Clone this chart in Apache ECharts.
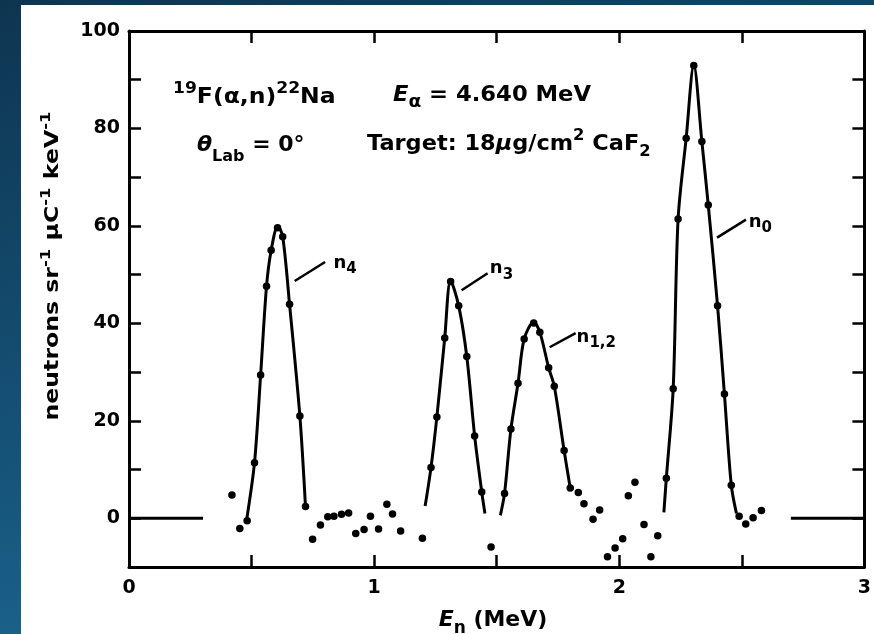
<!DOCTYPE html>
<html>
<head>
<meta charset="utf-8">
<script src="https://cdn.jsdelivr.net/npm/echarts@6/dist/echarts.min.js"></script>
<style>
  html, body { margin: 0; padding: 0; width: 874px; height: 634px; overflow: hidden;
    background: linear-gradient(165deg, #0e3550 0%, #16547a 55%, #21739b 100%); }
  #chart { position: absolute; left: 21px; top: 5px; width: 853px; height: 629px; background: #fff; }
</style>
</head>
<body>
<div id="chart"></div>
<script>
// Measured neutron yield per channel (E_n in MeV, yield in neutrons sr^-1 uC^-1 keV^-1)
const pointE = [
  0.420, 0.452, 0.482, 0.512, 0.537, 0.561, 0.580, 0.606, 0.627, 0.655, 0.697, 0.720,
  0.749, 0.781, 0.811, 0.836, 0.867, 0.896, 0.925, 0.959, 0.985, 1.018, 1.052, 1.075, 1.108, 1.197,
  1.232, 1.256, 1.288, 1.312, 1.345, 1.378, 1.410, 1.439, 1.477,
  1.532, 1.558, 1.587, 1.612, 1.651, 1.676, 1.712, 1.735, 1.775, 1.800,
  1.833, 1.856, 1.893, 1.920, 1.952, 1.983, 2.014, 2.037, 2.064, 2.101, 2.129, 2.157,
  2.192, 2.220, 2.240, 2.273, 2.304, 2.337, 2.363, 2.401, 2.429, 2.457,
  2.489, 2.516, 2.546, 2.580
];
const pointY = [
  4.8, -2.1, -0.5, 11.4, 29.4, 47.6, 55.0, 59.6, 57.8, 43.9, 21.0, 2.4,
  -4.3, -1.4, 0.3, 0.4, 0.8, 1.1, -3.1, -2.3, 0.4, -2.2, 2.9, 0.9, -2.6, -4.1,
  10.4, 20.8, 37.0, 48.6, 43.6, 33.2, 16.9, 5.4, -5.9,
  5.1, 18.3, 27.7, 36.8, 40.1, 38.2, 30.9, 27.1, 13.9, 6.2,
  5.3, 3.0, -0.2, 1.7, -7.9, -6.1, -4.2, 4.6, 7.4, -1.3, -7.9, -3.6,
  8.2, 26.6, 61.4, 78.0, 92.9, 77.3, 64.3, 43.6, 25.5, 6.8,
  0.4, -1.2, 0.1, 1.6
];

// Hand-fitted peak shapes
const curveN4E = [0.480, 0.512, 0.537, 0.561, 0.580, 0.607, 0.627, 0.655, 0.697, 0.720];
const curveN4Y = [-0.3, 11.4, 29.4, 47.6, 55.0, 60.0, 57.8, 43.9, 21.0, 2.4];
const curveN3E = [1.208, 1.232, 1.256, 1.288, 1.312, 1.345, 1.378, 1.410, 1.439, 1.452];
const curveN3Y = [2.5, 10.4, 20.8, 37.0, 48.8, 43.6, 33.2, 16.9, 5.4, 1.0];
const curveN12E = [1.515, 1.532, 1.558, 1.587, 1.612, 1.651, 1.676, 1.712, 1.735, 1.775, 1.800];
const curveN12Y = [0.6, 5.1, 18.3, 27.7, 36.8, 40.3, 38.2, 30.9, 27.1, 13.9, 6.2];
const curveN0E = [2.182, 2.192, 2.220, 2.240, 2.273, 2.304, 2.337, 2.363, 2.401, 2.429, 2.457, 2.478];
const curveN0Y = [1.2, 8.2, 26.6, 61.4, 78.0, 93.0, 77.3, 64.3, 43.6, 25.5, 6.8, 1.0];

// Zero baselines outside the measured range
const baseLeftE = [0, 0.302];
const baseLeftY = [0, 0];
const baseRightE = [2.70, 3.0];
const baseRightY = [0, 0];

// Peak labels: leader start, leader end, text anchor (left baseline)
const peakNames = ['4', '3', '1,2', '0'];
const leaderFromE = [0.676, 1.357, 1.716, 2.399];
const leaderFromY = [48.7, 46.8, 35.1, 57.6];
const leaderToE = [0.800, 1.463, 1.822, 2.517];
const leaderToY = [52.6, 50.3, 38.0, 61.3];
const labelE = [0.834, 1.472, 1.826, 2.528];
const labelY = [51.0, 49.9, 35.9, 59.5];

// Axis ranges and ticks
const xMin = 0, xMax = 3, xStep = 0.5;
const yMin = -10, yMax = 100, yStep = 10;

const zip = (xs, ys) => xs.map((x, i) => [x, ys[i]]);

const FONT = '"DejaVu Sans", "Liberation Sans", sans-serif';
const mctx = document.createElement('canvas').getContext('2d');
const fontOf = (size, italic) => (italic ? 'italic ' : '') + 'bold ' + size + 'px ' + FONT;

// Lays out a run of text pieces with their own size and baseline shift.
// parts: [text, size, baselineShift, italic]; (x, y) is the main baseline start.
function textRun(parts, x, y, opt) {
  opt = opt || {};
  let cx = 0;
  const kids = [];
  for (const [t, size, shift, italic] of parts) {
    const font = fontOf(size, italic);
    mctx.font = font;
    const w = mctx.measureText(t).width;
    kids.push({
      type: 'text', x: cx, y: shift - 0.35 * size,
      style: { text: t, font: font, fill: '#000', align: 'left', verticalAlign: 'middle',
               textAlign: 'left', textVerticalAlign: 'middle' }
    });
    cx += w;
  }
  if (opt.center) kids.forEach(k => { k.x -= cx / 2; });
  return { type: 'group', x: x, y: y, rotation: opt.rotation || 0, scaleX: opt.sx || 1, children: kids, z: 10 };
}

const lineStyleBlack = (w) => ({ color: '#000', width: w });

const curveSeries = (e, y) => ({
  type: 'line', data: zip(e, y), smooth: 0.3, showSymbol: false, symbol: 'none',
  lineStyle: lineStyleBlack(3), z: 3, silent: true
});
const straightSeries = (e, y, w) => ({
  type: 'line', data: zip(e, y), smooth: false, showSymbol: false, symbol: 'none',
  lineStyle: lineStyleBlack(w), z: 3, silent: true
});

const series = [
  straightSeries(baseLeftE, baseLeftY, 3),
  straightSeries(baseRightE, baseRightY, 3),
  curveSeries(curveN4E, curveN4Y),
  curveSeries(curveN3E, curveN3Y),
  curveSeries(curveN12E, curveN12Y),
  curveSeries(curveN0E, curveN0Y)
];
for (let i = 0; i < peakNames.length; i++) {
  series.push(straightSeries([leaderFromE[i], leaderToE[i]], [leaderFromY[i], leaderToY[i]], 2.5));
}
series.push({
  type: 'scatter', data: zip(pointE, pointY), symbol: 'circle', symbolSize: 7.5,
  itemStyle: { color: '#000', opacity: 1 }, z: 5, silent: true
});

const axisCommon = {
  axisLine: { show: true, onZero: false, lineStyle: { color: '#000', width: 3 } },
  axisTick: { show: true, inside: true, length: 12, lineStyle: { color: '#000', width: 2.5 } },
  splitLine: { show: false }
};

const xBase = { type: 'value', min: xMin, max: xMax, interval: xStep };
const yBase = { type: 'value', min: yMin, max: yMax, interval: yStep };

const option = {
  animation: false,
  grid: { left: 108, right: 9, top: 26, bottom: 67, containLabel: false },
  xAxis: [
    Object.assign({}, xBase, axisCommon, {
      position: 'bottom',
      axisLabel: { show: true, margin: 12, color: '#000', fontFamily: FONT, fontWeight: 'bold', fontSize: 19,
        formatter: v => (Math.abs(v - Math.round(v)) < 1e-9 ? String(Math.round(v)) : '') }
    }),
    Object.assign({}, xBase, axisCommon, { position: 'top', axisLabel: { show: false } })
  ],
  yAxis: [
    Object.assign({}, yBase, axisCommon, {
      position: 'left',
      axisLabel: { show: true, margin: 9, color: '#000', fontFamily: FONT, fontWeight: 'bold', fontSize: 19,
        formatter: v => (v >= 0 && v % 20 === 0 ? String(v) : '') }
    }),
    Object.assign({}, yBase, axisCommon, { position: 'right', axisLabel: { show: false } })
  ],
  series: series
};

const chart = echarts.init(document.getElementById('chart'), null, { renderer: 'canvas' });
chart.setOption(option);

// Text annotations and peak labels
const graphics = [
  textRun([['19', 16, -11], ['F(α,n)', 22, 0], ['22', 16, -11], ['Na', 22, 0]], 152, 100, { sx: 1.07 }),
  textRun([['θ', 22, 0, true], ['Lab', 16, 9], [' = 0°', 22, 0]], 176, 148),
  textRun([['E', 22, 0, true], ['α', 18, 6], [' = 4.640 MeV', 22, 0]], 372, 98, { sx: 1.03 }),
  textRun([['Target: 18', 22, 0], ['μ', 22, 0, true], ['g/cm', 22, 0], ['2', 16, -10], [' CaF', 22, 0], ['2', 16, 6]], 346, 146.5, { sx: 1.02 }),
  textRun([['E', 22, 0, true], ['n', 17, 7], [' (MeV)', 22, 0]], 472, 623, { center: true }),
  textRun([['neutrons sr', 20, 0], ['-1', 14, -9], [' μC', 20, 0], ['-1', 14, -9], [' keV', 20, 0], ['-1', 14, -9]],
          39, 261, { center: true, rotation: Math.PI / 2, sx: 1.18 })
];
for (let i = 0; i < peakNames.length; i++) {
  const p = chart.convertToPixel({ gridIndex: 0 }, [labelE[i], labelY[i]]);
  graphics.push(textRun([['n', 18, 0], [peakNames[i], 15, 5]], p[0], p[1]));
}
chart.setOption({ graphic: { elements: graphics } });
</script>
</body>
</html>
